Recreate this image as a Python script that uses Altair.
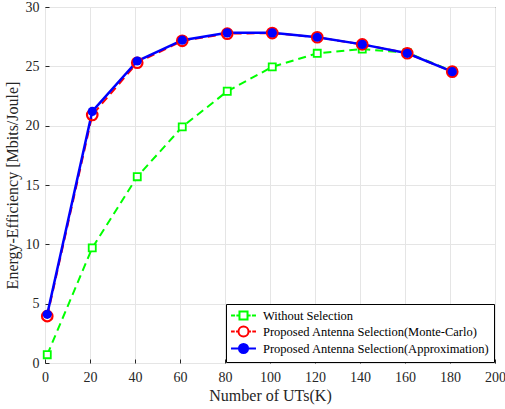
import altair as alt
import pandas as pd

K = [1, 21, 41, 61, 81, 101, 121, 141, 161, 181]
without_sel = [0.7, 9.7, 15.7, 19.9, 22.9, 24.95, 26.1, 26.45, 26.15, 24.6]
monte_carlo = [3.95, 20.9, 25.3, 27.15, 27.75, 27.8, 27.45, 26.85, 26.1, 24.55]
approx = [4.1, 21.2, 25.45, 27.2, 27.82, 27.82, 27.45, 26.85, 26.1, 24.55]

names = ["Without Selection",
         "Proposed Antenna Selection(Monte-Carlo)",
         "Proposed Antenna Selection(Approximation)"]
colors = ["#00FF00", "#FF0000", "#0000FF"]
x_ticks = list(range(0, 201, 20))
y_ticks = list(range(0, 31, 5))

rows = []
for name, ys in zip(names, [without_sel, monte_carlo, approx]):
    for k, v in zip(K, ys):
        rows.append({"K": k, "EE": v, "series": name})
df = pd.DataFrame(rows)

FONT = "Liberation Serif"
GRID = "#e5e5e5"
AX = "#262626"

xscale = alt.Scale(domain=[0, 200], nice=False)
yscale = alt.Scale(domain=[0, 30], nice=False)

xaxis = alt.Axis(values=x_ticks, title="Number of UTs(K)", offset=-4, tickSize=4,
                 domain=False, labelPadding=7, grid=True, gridColor=GRID,
                 tickColor=AX, labelColor=AX, labelFont=FONT, labelFontSize=14,
                 titleFont=FONT, titleFontSize=16, titleFontWeight="normal",
                 titleColor=AX, titlePadding=3, labelFlush=False)
yaxis = alt.Axis(values=y_ticks, title="Energy-Efficiency [Mbits/Joule]", offset=-4,
                 tickSize=4, domain=False, labelPadding=6, grid=True, gridColor=GRID,
                 tickColor=AX, labelColor=AX, labelFont=FONT, labelFontSize=14,
                 titleFont=FONT, titleFontSize=16, titleFontWeight="normal",
                 titleColor=AX, titlePadding=5, labelFlush=False)

p_green = ("M-1.92,0H-1.3M-1.1,0H-0.62M0.62,0H1.1M1.3,0H1.92"
           "M-0.62,-0.62H0.62V0.62H-0.62Z")
p_red = ("M-1.92,0H-1.35M-1.15,0H-0.77M0.77,0H1.15M1.35,0H1.92"
         "M-0.77,0A0.77,0.77 0 1,0 0.77,0A0.77,0.77 0 1,0 -0.77,0Z")
p_blue = ("M-1.92,0H-0.7M0.7,0H1.92"
          "M-0.7,0A0.7,0.7 0 1,0 0.7,0A0.7,0.7 0 1,0 -0.7,0Z")

legend = alt.Legend(
    title=None, orient="bottom-right", offset=1,
    labelFont=FONT, labelFontSize=12.5, labelColor="black", labelLimit=0,
    symbolSize=169, symbolStrokeWidth=2, symbolOpacity=1, symbolOffset=6,
    fillColor="white", strokeColor="black", padding=4, rowPadding=-2,
    labelOffset=12, cornerRadius=0,
)

base = alt.Chart(df).encode(
    x=alt.X("K:Q", scale=xscale, axis=xaxis),
    y=alt.Y("EE:Q", scale=yscale, axis=yaxis),
)

layers = []
dashes = [[8, 5], [8, 5], None]
widths = [2, 2, 2.5]
for name, col, d, w in zip(names, colors, dashes, widths):
    kw = {"strokeWidth": w, "color": col}
    if d:
        kw["strokeDash"] = d
    layers.append(base.transform_filter(alt.datum.series == name).mark_line(**kw)
                  .encode(order=alt.Order("K:Q")))

green_pts = base.transform_filter(alt.datum.series == names[0]).mark_point(
    shape="square", size=50, filled=False, fill="white", fillOpacity=1,
    stroke="#00FF00", strokeWidth=1.8, opacity=1)
red_pts = base.transform_filter(alt.datum.series == names[1]).mark_point(
    shape="circle", size=110, filled=False, stroke="#FF0000", strokeWidth=2.2, opacity=1)
blue_pts = base.transform_filter(alt.datum.series == names[2]).mark_point(
    shape="circle", size=85, filled=True, fill="#0000FF", opacity=1)

legend_layer = base.transform_filter("false").mark_point(filled=False, opacity=1, strokeWidth=2).encode(
    color=alt.Color("series:N", scale=alt.Scale(domain=names, range=colors), legend=legend),
    shape=alt.Shape("series:N", scale=alt.Scale(domain=names, range=[p_green, p_red, p_blue]), legend=legend),
    fill=alt.Fill("series:N", scale=alt.Scale(domain=names, range=["#ffffff", "#ffffff", "#0000FF"]), legend=legend),
)

chart = alt.layer(*layers, green_pts, red_pts, blue_pts, legend_layer).properties(
    width=450, height=356,
    autosize=alt.AutoSizeParams(type="none"),
    padding={"left": 45, "top": 7, "right": 10, "bottom": 46},
    background="white",
).configure_view(stroke=AX, strokeWidth=1).configure_axis(labelFont=FONT, titleFont=FONT)

chart.save("out.html", embed_options={"renderer": "svg", "actions": False})
